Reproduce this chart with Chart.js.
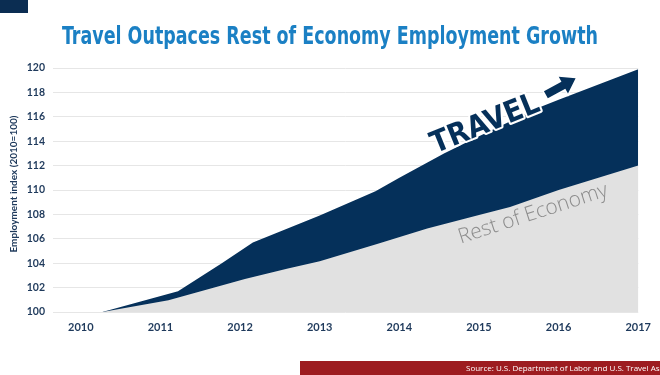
<!DOCTYPE html>
<html>
<head>
<meta charset="utf-8">
<script src="https://cdn.jsdelivr.net/npm/chart.js@4.4.1/dist/chart.umd.min.js"></script>
<style>
  html, body { margin: 0; padding: 0; background: #ffffff; }
  #wrap { width: 660px; height: 375px; position: relative; }
</style>
</head>
<body>
<div id="wrap"><canvas id="c" width="660" height="375"></canvas></div>
<script>
// ---- data ----
const titleText = "Travel Outpaces Rest of Economy Employment Growth";
const yAxisTitle = "Employment index (2010=100)";
const sourceText = "Source: U.S. Department of Labor and U.S. Travel Association";
const xTickLabels = [2010, 2011, 2012, 2013, 2014, 2015, 2016, 2017];
const yTickValues = [100, 102, 104, 106, 108, 110, 112, 114, 116, 118, 120];

const travelX = [2010.27, 2011.22, 2011.77, 2012.16, 2013.0, 2013.7, 2014.0, 2014.56, 2015.0, 2015.77, 2016.0, 2017.0];
const travelY = [100.0, 101.7, 104.0, 105.7, 107.9, 109.9, 111.0, 113.0, 114.4, 116.8, 117.4, 119.9];

const restX = [2010.27, 2011.1, 2012.06, 2012.6, 2013.0, 2013.73, 2014.35, 2015.0, 2015.39, 2016.0, 2017.0];
const restY = [100.0, 100.96, 102.7, 103.57, 104.15, 105.6, 106.85, 107.95, 108.6, 110.0, 112.0];

// ---- styling ----
const NAVY = "#05305a";
const GRAY = "#e1e1e1";
const TICK_COLOR = "#1f3a5c";

const toPoints = (xs, ys) => xs.map((x, i) => ({ x: x, y: ys[i] }));

const decorPlugin = {
  id: 'decor',
  afterDraw(chart) {
    const ctx = chart.ctx;
    const xs = chart.scales.x, ys = chart.scales.y;
    ctx.save();
    // top-left navy block
    ctx.fillStyle = "#0b2d52";
    ctx.fillRect(0, 0, 28, 13);
    // title
    ctx.fillStyle = "#1b80c4";
    ctx.font = "bold 24px 'Liberation Sans Narrow', 'DejaVu Sans Condensed', 'Roboto', sans-serif";
    ctx.textAlign = "center";
    ctx.textBaseline = "alphabetic";
    ctx.fillText(titleText, 330, 44, 536);
    // y-axis title
    ctx.save();
    ctx.translate(14, 184);
    ctx.rotate(-Math.PI / 2);
    ctx.fillStyle = TICK_COLOR;
    ctx.font = "bold 10px 'Lato', 'Open Sans', sans-serif";
    ctx.textAlign = "center";
    ctx.textBaseline = "middle";
    ctx.fillText(yAxisTitle, 0, 0, 158);
    ctx.restore();

    // TRAVEL label
    ctx.save();
    const tx = xs.getPixelForValue(2014.45), ty = ys.getPixelForValue(113.0);
    ctx.translate(tx, ty);
    ctx.rotate(-22 * Math.PI / 180);
    ctx.font = "bold 30px 'DejaVu Sans Condensed', 'Liberation Sans Narrow', sans-serif";
    ctx.textAlign = "left";
    ctx.textBaseline = "alphabetic";
    ctx.lineJoin = "round";
    ctx.lineWidth = 4;
    ctx.strokeStyle = "#ffffff";
    ctx.strokeText("TRAVEL", 0, 0, 117);
    ctx.fillStyle = NAVY;
    ctx.fillText("TRAVEL", 0, 0, 117);
    ctx.restore();

    // arrow
    ctx.save();
    const ax = xs.getPixelForValue(2015.84), ay = ys.getPixelForValue(117.8);
    ctx.translate(ax, ay);
    ctx.rotate(-29 * Math.PI / 180);
    ctx.beginPath();
    ctx.moveTo(0, -4);
    ctx.lineTo(20, -4);
    ctx.lineTo(20, -9.5);
    ctx.lineTo(34, 0);
    ctx.lineTo(20, 9.5);
    ctx.lineTo(20, 4);
    ctx.lineTo(0, 4);
    ctx.closePath();
    ctx.lineJoin = "miter";
    ctx.lineWidth = 3;
    ctx.strokeStyle = "#ffffff";
    ctx.stroke();
    ctx.fillStyle = NAVY;
    ctx.fill();
    ctx.restore();

    // Rest of Economy label
    ctx.save();
    const rx = xs.getPixelForValue(2014.77), ry = ys.getPixelForValue(105.6);
    ctx.translate(rx, ry);
    ctx.rotate(-18 * Math.PI / 180);
    ctx.font = "300 21px 'Open Sans', 'Lato', sans-serif";
    ctx.fillStyle = "#8c8c8c";
    ctx.textAlign = "left";
    ctx.textBaseline = "alphabetic";
    ctx.fillText("Rest of Economy", 0, 0, 156);
    ctx.restore();

    // source band
    ctx.fillStyle = "#9d1c20";
    ctx.fillRect(300, 361, 360, 14);
    ctx.fillStyle = "#ffffff";
    ctx.font = "8px 'Open Sans', 'Lato', sans-serif";
    ctx.textAlign = "left";
    ctx.textBaseline = "middle";
    ctx.fillText(sourceText, 466, 369);
    ctx.restore();
  }
};

new Chart(document.getElementById('c'), {
  type: 'line',
  data: {
    datasets: [
      {
        label: 'Travel',
        data: toPoints(travelX, travelY),
        backgroundColor: NAVY,
        borderColor: NAVY,
        borderWidth: 0,
        pointRadius: 0,
        tension: 0,
        fill: 'start',
        order: 2
      },
      {
        label: 'Rest of Economy',
        data: toPoints(restX, restY),
        backgroundColor: GRAY,
        borderColor: GRAY,
        borderWidth: 0,
        pointRadius: 0,
        tension: 0,
        fill: 'start',
        order: 1
      }
    ]
  },
  options: {
    responsive: false,
    animation: false,
    devicePixelRatio: 1,
    layout: { padding: { top: 68, right: 18, bottom: 0, left: 0 } },
    plugins: {
      legend: { display: false },
      tooltip: { enabled: false },
      title: { display: false }
    },
    scales: {
      x: {
        type: 'linear',
        min: 2009.65,
        max: 2017,
        afterBuildTicks: (s) => { s.ticks = xTickLabels.map(v => ({ value: v })); },
        afterFit: (s) => { s.height = 63; },
        grid: { display: false, drawTicks: false },
        border: { display: false },
        ticks: {
          autoSkip: false,
          maxRotation: 0,
          padding: 9,
          color: TICK_COLOR,
          font: { family: "'Lato', 'Open Sans', sans-serif", weight: 'bold', size: 11 },
          callback: (v) => String(v)
        }
      },
      y: {
        type: 'linear',
        min: 100,
        max: 120,
        afterBuildTicks: (s) => { s.ticks = yTickValues.map(v => ({ value: v })); },
        afterFit: (s) => { s.width = 53; },
        grid: { color: '#e6e6e6', lineWidth: 1, drawTicks: false },
        border: { display: false },
        ticks: {
          padding: 8,
          color: TICK_COLOR,
          font: { family: "'Lato', 'Open Sans', sans-serif", weight: 'bold', size: 10.5 },
          callback: (v) => String(v)
        }
      }
    }
  },
  plugins: [decorPlugin]
});
</script>
</body>
</html>
